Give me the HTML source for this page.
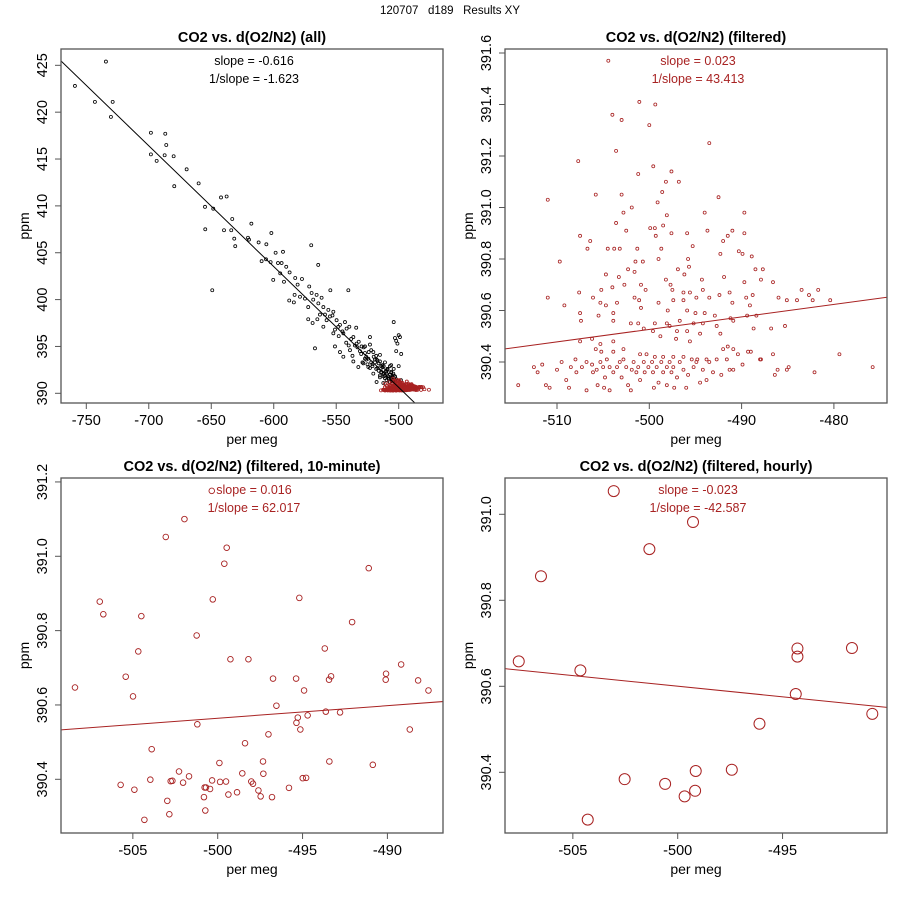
<!DOCTYPE html>
<html><head><meta charset="utf-8"><style>
body{margin:0;background:#fff;}
svg{display:block;font-family:"Liberation Sans",Arial,sans-serif;}
</style></head><body>
<svg id="chart" width="900" height="900" viewBox="0 0 900 900" xmlns="http://www.w3.org/2000/svg">
<rect width="900" height="900" fill="#fff"/>
<text x="450" y="14" text-anchor="middle" font-size="11.5" fill="#000" style="white-space:pre">120707   d189   Results XY</text>
</svg>
<script>
// ---------- DATA ----------
// Panel 1 (all) black points
const allX = [-759.1,-734.3,-743.1,-728.9,-730.3,-698.3,-686.8,-686.0,-698.3,-687.3,-693.7,-680.1,-669.7,-679.6,-660.1,-642.2,-637.7,-655.0,-648.4,-654.8,-639.8,-634.0,-633.2,-617.9,-631.6,-630.8,-620.6,-619.8,-612.1,-605.9,-601.9,-609.7,-606.2,-602.5,-598.5,-592.6,-596.6,-593.7,-590.0,-600.4,-594.8,-591.8,-587.3,-582.8,-577.4,-580.9,-571.6,-649.2,-570.0,-564.4,-554.7,-540.3,-583.3,-587.6,-583.9,
-579.0,-575.0,-569.7,-565.7,-561.7,-572.4,-568.4,-564.3,-560.3,-556.3,-572.4,-568.9,-565.1,-560.3,-555.0,-552.3,-549.7,-547.0,-551.0,-544.3,-541.7,-539.5,-536.3,-544.3,-551.0,-547.0,-539.0,-533.7,-529.7,-527.0,-524.3,-536.3,-532.3,-528.3,-523.0,-520.3,-517.7,-515.0,-512.3,-509.7,-508.3,-505.7,-503.0,-524.3,-520.3,-515.0,-509.7,-507.0,-501.7,-499.0,-498.2,-517.7,-512.3,-504.3,-523.0,-552.3,-548.3,-557.7,-563.0,-559.0,-567.0,
-530,-526,-522,-518,-514,-511,-508,-505,-502,-535,-531,-527,-521,-516,-512,-506,-503,-500,-538,-533,-525,-519,-513,-510,-507,-504,-545,-542,-537,-529,-523,-517,-514,-511,-509,-506,-503,-501,
-528,-524,-520,-516,-513,-510,-507,-505,-502,-499,-532,-527,-522,-518,-515,-512,-509,-506,-504,-501,-498,-526,-521,-517,-514,-511,-508,-505,-503,-500,-519,-515,-512,-509,-507,-504,-502,-511,-506,-503,-540,-534,-548,-543,-553,-558];
const allY = [422.8,425.4,421.1,421.1,419.5,417.8,417.7,416.5,415.5,415.4,414.8,415.3,413.9,412.1,412.4,410.9,411.0,409.9,409.7,407.5,407.4,407.4,408.6,408.1,406.5,405.7,406.6,406.4,406.1,405.9,407.1,404.1,404.3,404.0,405.0,405.1,403.9,403.9,403.5,402.1,402.8,401.9,402.9,402.3,402.2,401.6,401.4,401.0,405.8,403.7,401.0,401.0,400.5,399.9,399.7,
400.3,400.1,400.7,400.5,400.2,399.2,400.0,399.6,399.2,398.9,397.9,397.5,397.9,397.1,398.2,398.7,397.8,397.3,396.8,396.4,396.9,397.1,396.0,393.9,395.0,394.4,394.6,395.3,395.0,394.3,393.7,393.4,392.8,393.2,395.2,394.4,393.6,394.1,392.5,392.1,391.8,391.4,391.8,392.8,392.1,391.9,391.4,391.2,391.1,391.1,391.4,391.2,391.1,392.1,396.0,396.4,397.1,397.8,398.4,398.4,
394.8,394.2,393.9,393.3,392.6,392.2,391.9,391.5,391.3,395.6,395.1,394.5,393.7,392.9,392.4,391.8,391.6,391.4,396.2,395.8,394.9,393.1,393.6,393.0,392.3,392.0,397.6,396.6,395.4,394.0,393.3,392.7,393.5,392.9,391.6,392.6,392.3,391.8,
395.3,394.9,394.4,393.9,393.2,392.8,392.4,392.0,391.7,391.5,396.0,395.5,395.0,394.6,394.0,393.4,392.9,392.5,392.2,391.9,391.3,394.2,393.6,393.1,392.7,392.3,391.9,391.6,391.4,391.2,392.9,393.3,391.7,392.1,392.6,392.9,392.6,394.5,393.3,393.0,395.9,395.1,397.0,396.1,397.6,398.3];
// Filtered points (panel 2; also red in panel 1)
const filtX = [-504.44,-501.08,-499.35,-504.0,-503.0,-500.0,-493.5,-503.6,-507.7,-499.57,-501.2,-497.6,-498.2,-496.8,-498.6,-505.8,-503.0,-492.5,-511.0,-499.1,-501.9,-502.8,-498.1,-494.0,-503.6,-489.7,-499.9,-499.4,-498.5,-502.5,-497.6,-495.9,-493.7,-491.0,-489.7,-499.3,-507.5,-491.5,-506.4,-492.0,-506.7,-504.5,-503.8,-503.2,-501.3,-498.7,-495.3,-490.3,-489.9,-492.3,-488.9,-509.7,-499.0,-501.5,-500.7,-495.8,-502.3,-496.9,-495.7,-488.5,-487.7,-504.7,-501.6,-496.2,-498.2,-503.3,-494.3,-491.9,-487.9,-502.7,-500.9,-497.7,-486.6,-489.7,-481.7,-483.5,-482.7,-480.4,-484.0,-485.1,-486.0,-482.3,-505.2,-504.0,-507.6,-511.0,-506.1,-509.2,-505.3,-504.7,-503.5,-501.6,-501.1,-500.4,-497.5,-496.3,-495.6,-494.9,-494.2,-493.5,-492.4,-491.3,-489.5,-488.8,-499.0,-497.4,-496.3,-491.0,-489.1,-507.5,-505.5,-503.9,-500.9,-498.0,-495.9,-495.0,-494.0,-492.9,-491.2,-489.4,-488.4,-507.4,-503.9,-502.0,-501.2,-499.4,-498.1,-496.7,-495.2,-494.2,-492.7,-490.9,-488.7,-486.8,-485.3,-500.6,-499.6,-497.8,-497.0,-495.9,-494.5,-492.3,-498.8,-497.1,-507.5,-506.2,-495.6,-505.3,-503.9,-505.8,-505.2,-503.9,-502.8,-501.0,-500.3,-499.4,-498.5,-497.4,-496.3,-494.8,-493.8,-492.0,-491.5,-490.9,-490.4,-489.3,-489.0,-486.6,-479.4,-488.0,
-514.2,-512.5,-512.1,-511.6,-511.2,-510.8,-510.0,-509.5,-509.0,-508.7,-508.5,-508.0,-507.9,-507.3,-506.8,-506.8,-506.2,-506.1,-505.7,-505.6,-505.3,-505.0,-504.8,-504.6,-504.3,-504.9,-504.3,-503.9,-503.5,-503.2,-503.0,-502.8,-502.5,-502.3,-502.0,-501.9,-501.7,-501.4,-501.2,-501.0,-500.6,-500.5,-500.1,-499.7,-499.6,-499.5,-499.2,-499.0,-498.7,-498.5,-498.1,-498.1,-497.8,-497.6,-497.4,-497.3,-497.0,-496.7,-496.3,-496.0,-495.8,-495.4,-495.2,-494.9,-494.5,-494.2,-493.8,-493.5,-493.1,-492.7,-492.2,-491.6,-491.3,-490.9,-489.9,-487.9,-486.4,-486.1,-485.1,-484.9,-482.1,-475.8];
const filtY = [391.57,391.41,391.40,391.36,391.34,391.32,391.25,391.22,391.18,391.16,391.13,391.14,391.10,391.10,391.06,391.05,391.05,391.04,391.03,391.02,391.00,390.98,390.97,390.98,390.94,390.98,390.92,390.92,390.93,390.91,390.90,390.90,390.91,390.91,390.90,390.89,390.89,390.89,390.87,390.87,390.84,390.84,390.84,390.84,390.84,390.84,390.85,390.83,390.82,390.82,390.81,390.79,390.80,390.79,390.79,390.80,390.76,390.76,390.77,390.76,390.76,390.74,390.75,390.74,390.72,390.73,390.72,390.73,390.72,390.70,390.70,390.70,390.71,390.71,390.68,390.68,390.66,390.64,390.64,390.64,390.65,390.64,390.68,390.69,390.67,390.65,390.65,390.62,390.63,390.62,390.63,390.65,390.64,390.68,390.68,390.67,390.67,390.65,390.68,390.65,390.66,390.67,390.65,390.66,390.63,390.64,390.64,390.63,390.62,390.59,390.58,390.59,390.61,390.60,390.60,390.59,390.59,390.58,390.57,390.58,390.58,390.56,390.56,390.55,390.55,390.55,390.55,390.56,390.55,390.55,390.54,390.56,390.53,390.53,390.54,390.53,390.52,390.54,390.52,390.52,390.51,390.51,390.50,390.49,390.48,390.49,390.48,390.47,390.48,390.45,390.44,390.44,390.45,390.43,390.43,390.42,390.42,390.42,390.42,390.41,390.41,390.45,390.46,390.45,390.43,390.44,390.44,390.43,390.43,390.41,
390.31,390.38,390.36,390.39,390.31,390.30,390.37,390.40,390.33,390.30,390.38,390.41,390.36,390.38,390.29,390.40,390.39,390.36,390.37,390.31,390.40,390.38,390.34,390.41,390.38,390.30,390.29,390.36,390.38,390.40,390.34,390.41,390.38,390.31,390.29,390.37,390.40,390.36,390.38,390.33,390.40,390.36,390.38,390.40,390.36,390.30,390.38,390.32,390.40,390.36,390.38,390.31,390.40,390.36,390.38,390.30,390.34,390.40,390.37,390.30,390.35,390.41,390.38,390.40,390.32,390.37,390.33,390.40,390.36,390.41,390.35,390.41,390.37,390.37,390.39,390.41,390.35,390.37,390.37,390.38,390.36,390.38];
// 10-minute averages
const tenX = [-508.41,-506.95,-506.74,-505.42,-504.99,-504.68,-504.50,-503.89,-505.72,-504.91,-504.32,-503.97,-503.06,-502.97,-502.85,-502.77,-502.67,-502.28,-502.04,-501.96,-501.69,-501.24,-501.20,-500.81,-500.77,-500.73,-500.69,-500.45,-500.33,-500.29,-499.90,-499.86,-499.61,-499.51,-499.47,-499.37,-499.25,-498.86,-498.55,-498.39,-498.19,-498.02,-497.92,-497.60,-497.47,-497.33,-497.31,-497.01,-496.80,-496.74,-496.54,-495.80,-495.38,-495.36,-495.28,-495.19,-495.13,-494.99,-494.91,-494.79,-494.70,-493.69,-493.63,-493.44,-493.42,-493.32,-492.79,-492.08,-491.10,-490.86,-490.10,-490.08,-489.19,-488.68,-488.19,-487.58,-500.35];
const tenY = [390.647,390.878,390.844,390.676,390.623,390.744,390.839,390.481,390.385,390.372,390.291,390.399,391.052,390.342,390.306,390.395,390.396,390.421,390.391,391.100,390.408,390.787,390.548,390.352,390.378,390.316,390.378,390.374,390.397,390.884,390.444,390.393,390.980,390.394,391.023,390.359,390.723,390.365,390.416,390.497,390.723,390.394,390.388,390.370,390.354,390.448,390.415,390.521,390.352,390.671,390.598,390.377,390.671,390.552,390.566,390.888,390.534,390.403,390.639,390.404,390.572,390.752,390.582,390.668,390.448,390.677,390.580,390.823,390.968,390.439,390.668,390.684,390.709,390.534,390.666,390.639,391.176];
// hourly averages
const hourX = [-507.58,-506.52,-504.64,-504.29,-503.05,-502.53,-501.35,-500.60,-499.67,-499.27,-499.17,-499.14,-497.42,-496.10,-494.37,-494.29,-494.29,-491.69,-490.72];
const hourY = [390.658,390.856,390.637,390.290,391.054,390.384,390.919,390.373,390.344,390.982,390.357,390.403,390.406,390.513,390.582,390.669,390.688,390.689,390.536];
// tick labels
const p1XTicks = [-750,-700,-650,-600,-550,-500];
const p1YTicks = [390,395,400,405,410,415,420,425];
const p2XTicks = [-510,-500,-490,-480];
const p2YTicks = [390.4,390.6,390.8,391.0,391.2,391.4,391.6];
const p3XTicks = [-505,-500,-495,-490];
const p3YTicks = [390.4,390.6,390.8,391.0,391.2];
const p4XTicks = [-505,-500,-495];
const p4YTicks = [390.4,390.6,390.8,391.0];
// fit lines [anchor x, y at anchor, slope]
const p1Fit = [-770.2,425.46,-0.1289];
const p2Fit = [-515.63,390.451,0.00484];
const p3Fit = [-509.25,390.533,0.00338];
const p4Fit = [-508.24,390.641,-0.00494];
const slopeTexts = [["slope = -0.616","1/slope = -1.623"],["slope = 0.023","1/slope = 43.413"],["slope = 0.016","1/slope = 62.017"],["slope = -0.023","1/slope = -42.587"]];

// ---------- DRAW ----------
const NS="http://www.w3.org/2000/svg";
const svg=document.getElementById('chart');
const RED="#a82222";
function mk(tag,attrs,parent){const e=document.createElementNS(NS,tag);for(const k in attrs)e.setAttribute(k,attrs[k]);(parent||svg).appendChild(e);return e;}

function panel(o){
  const g=mk('g',{});
  
  
  const sx=v=>o.xp0+(v-o.xv0)*o.xs, sy=v=>o.yp0-(v-o.yv0)*o.ys;
  const cid='clip-'+o.name;
  const cp=mk('clipPath',{id:cid},g);mk('rect',{x:o.L,y:o.T,width:o.R-o.L,height:o.B-o.T},cp);
  const t=mk('text',{x:(o.L+o.R)/2,y:o.T-7,'text-anchor':'middle','font-size':'14.5','font-weight':'bold'},g);t.textContent=o.title;
  
  
  const pts=mk('g',{'clip-path':'url(#'+cid+')'},g);
  
  
  o.series.forEach(s=>{
    for(let i=0;i<s.x.length;i++){
      const c=mk('circle',{cx:sx(s.x[i]),cy:sy(s.y[i]),r:s.r,fill:'none',stroke:s.c,'stroke-width':s.w},pts);
      
      
    }
  });
  const f=o.fit,x0=o.xv0-(o.xp0-o.L)/o.xs-50,x1=o.xv0+(o.R-o.xp0)/o.xs+50;
  const ln=mk('line',{x1:sx(x0),y1:sy(f[1]+f[2]*(x0-f[0])),x2:sx(x1),y2:sy(f[1]+f[2]*(x1-f[0])),stroke:o.lc,'stroke-width':1,'clip-path':'url(#'+cid+')'},g);
  
  
  const tc=(o.L+o.R)/2+2;
  o.ann.forEach((s,i)=>{const a=mk('text',{x:tc,y:o.T+16+i*18,'text-anchor':'middle','font-size':'12.5',fill:o.lc},g);a.textContent=s;
    
    });
  const bx=mk('rect',{x:o.L,y:o.T,width:o.R-o.L,height:o.B-o.T,fill:'none',stroke:'#555','stroke-width':1.3},g);
  
  
  o.xt.forEach(v=>{const x=sx(v);mk('line',{x1:x,y1:o.B,x2:x,y2:o.B+6,stroke:'#555'},g);
    const l=mk('text',{x:x,y:o.B+22,'text-anchor':'middle','font-size':'14.5'},g);l.textContent=v;
    
    });
  o.yt.forEach(v=>{const y=sy(v);mk('line',{x1:o.L-6,y1:y,x2:o.L,y2:y,stroke:'#555'},g);
    const l=mk('text',{x:o.L-14,y:y,'text-anchor':'middle','font-size':'14.5',transform:'rotate(-90 '+(o.L-14)+' '+y+')'},g);
    l.textContent=o.yd?v.toFixed(o.yd):v;
    
    });
  const xl=mk('text',{x:(o.L+o.R)/2,y:o.B+41,'text-anchor':'middle','font-size':'14'},g);xl.textContent='per meg';
  
  
  const yx=o.L-32,yy=(o.T+o.B)/2;
  const yl=mk('text',{x:yx,y:yy,'text-anchor':'middle','font-size':'14',transform:'rotate(-90 '+yx+' '+yy+')'},g);yl.textContent='ppm';
  
  
}
panel({name:'panel-all',title:'CO2 vs. d(O2/N2) (all)',L:61,R:443,T:49,B:403,xv0:-750,xp0:86.3,xs:1.2496,yv0:390,yp0:393.3,ys:9.371,
  series:[{x:allX,y:allY,r:1.5,c:'#000',w:0.8},{x:filtX,y:filtY,r:1.5,c:RED,w:0.8}],fit:p1Fit,lc:'#000',ann:slopeTexts[0],xt:p1XTicks,yt:p1YTicks});
panel({name:'panel-filtered',title:'CO2 vs. d(O2/N2) (filtered)',L:505,R:887,T:49,B:403,xv0:-500,xp0:649.3,xs:9.23,yv0:390.4,yp0:362,ys:257.5,
  series:[{x:filtX,y:filtY,r:1.5,c:RED,w:0.8}],fit:p2Fit,lc:RED,ann:slopeTexts[1],xt:p2XTicks,yt:p2YTicks,yd:1});
panel({name:'panel-10-minute',title:'CO2 vs. d(O2/N2) (filtered, 10-minute)',L:61,R:443,T:478,B:833,xv0:-500,xp0:217.7,xs:16.97,yv0:390.4,yp0:779.3,ys:371.7,
  series:[{x:tenX,y:tenY,r:2.8,c:RED,w:0.9}],fit:p3Fit,lc:RED,ann:slopeTexts[2],xt:p3XTicks,yt:p3YTicks,yd:1});
panel({name:'panel-hourly',title:'CO2 vs. d(O2/N2) (filtered, hourly)',L:505,R:887,T:478,B:833,xv0:-500,xp0:677.7,xs:20.97,yv0:390.4,yp0:772.3,ys:430,
  series:[{x:hourX,y:hourY,r:5.5,c:RED,w:1}],fit:p4Fit,lc:RED,ann:slopeTexts[3],xt:p4XTicks,yt:p4YTicks,yd:1});
</script>
</body></html>
